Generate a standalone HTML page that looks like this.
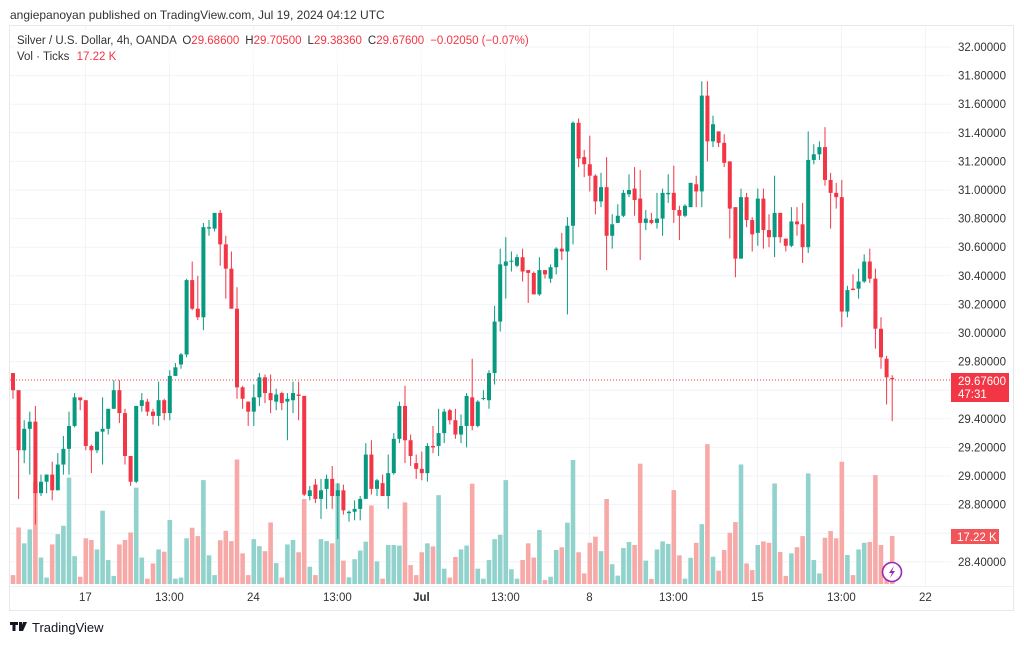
<!DOCTYPE html>
<html><head><meta charset="utf-8">
<style>
html,body{margin:0;padding:0;background:#fff;}
body{width:1024px;height:643px;overflow:hidden;position:relative;font-family:"Liberation Sans",sans-serif;}
svg text{font-family:"Liberation Sans",sans-serif;}
</style></head>
<body>
<svg id="chart" width="1024" height="643" xmlns="http://www.w3.org/2000/svg">
  <text x="10" y="19" font-size="12" fill="#333">angiepanoyan published on TradingView.com, Jul 19, 2024 04:12 UTC</text>
  <rect x="9.5" y="25.5" width="1004" height="585" fill="none" stroke="#e6e8ec"/>
  <g id="grid"></g>
  <g id="vols"></g>
  <g id="candles"></g>
  <g id="axis"></g>
  <g id="taxis"></g>
  <g>
    <rect x="12" y="30" width="500" height="36" fill="#fff" opacity="0.6"/>
    <text x="17" y="44" font-size="11.5" fill="#333">Silver / U.S. Dollar, 4h, OANDA <tspan dx="3">O</tspan><tspan fill="#f23645">29.68600</tspan><tspan dx="6">H</tspan><tspan fill="#f23645">29.70500</tspan><tspan dx="6">L</tspan><tspan fill="#f23645">29.38360</tspan><tspan dx="6">C</tspan><tspan fill="#f23645">29.67600</tspan><tspan dx="6" fill="#f23645">−0.02050 (−0.07%)</tspan></text>
    <text x="17" y="60" font-size="11.5" fill="#333">Vol · Ticks <tspan dx="4" fill="#f23645">17.22 K</tspan></text>
  </g>
  <g>
    <line x1="10" x2="951" y1="380" y2="380" stroke="#f23645" stroke-width="1" stroke-dasharray="1,2"/>
    <rect x="951" y="373" width="58" height="29" fill="#f23645"/>
    <text x="958" y="385" font-size="11.5" fill="#fff">29.67600</text>
    <text x="958" y="398" font-size="11.5" fill="#fff">47:31</text>
  </g>
  <g>
    <rect x="951" y="529" width="48" height="15" fill="#f0555a"/>
    <text x="957" y="541" font-size="11.5" fill="#fff">17.22 K</text>
  </g>
  <g>
    <circle cx="892" cy="572" r="9.5" fill="#fff" stroke="#9c27b0" stroke-width="1.6"/>
    <path d="M894 566 L889 573 L892 573 L890 578 L895 571 L892 571 Z" fill="#9c27b0"/>
  </g>
  <g>
    <path d="M10 622 h8 v3 h-2.5 v6 h-3 v-6 h-2.5z M19 622 h3 v9 h-3z M23 622 h4 l-4 9 h-3z" fill="#131722"/>
    <text x="32" y="632" font-size="13" fill="#131722">TradingView</text>
  </g>
</svg>
<script>
const opens=[29.72,29.60,29.18,29.33,29.38,28.88,28.96,29.01,28.90,29.08,29.19,29.35,29.55,29.53,29.21,29.18,29.31,29.33,29.47,29.60,29.44,29.14,28.96,29.49,29.52,29.45,29.42,29.53,29.44,29.70,29.78,
29.85,30.37,30.17,30.11,30.73,30.73,30.84,30.62,30.45,30.17,29.62,29.52,29.45,29.55,29.69,29.58,29.52,29.58,29.52,29.53,29.57,29.56,28.86,28.94,28.84,28.91,28.98,28.86,28.90,28.74,28.75,
28.77,28.84,29.15,28.91,28.95,28.86,29.02,29.26,29.49,29.25,29.09,29.05,29.02,29.21,29.21,29.30,29.46,29.39,29.29,29.35,29.55,29.35,29.54,29.53,29.72,30.08,30.47,30.50,30.47,30.53,30.44,30.42,
30.27,30.44,30.38,30.46,30.59,30.57,30.75,31.47,31.23,31.18,31.10,30.92,31.02,30.68,30.77,30.82,30.97,31.01,30.94,30.77,30.79,30.77,30.80,30.97,30.98,30.86,30.82,30.88,31.04,30.99,31.66,31.34,
31.41,31.33,31.20,30.88,30.52,30.95,30.79,30.70,30.94,30.72,30.67,30.84,30.66,30.61,30.78,30.76,30.60,31.21,31.25,31.30,31.07,30.98,30.95,30.15,30.31,30.31,30.36,30.50,30.38,30.03,29.82,29.686];
const highs=[29.72,29.60,29.39,29.45,29.49,29.01,29.01,29.10,29.16,29.28,29.45,29.58,29.55,29.53,29.22,29.31,29.55,29.47,29.67,29.67,29.47,29.14,29.49,29.58,29.54,29.47,29.66,29.54,29.74,29.79,29.86,
30.38,30.50,30.40,30.77,30.79,30.84,30.86,30.68,30.57,30.32,29.63,29.52,29.64,29.72,29.71,29.71,29.61,29.59,29.58,29.66,29.66,29.56,28.93,28.98,28.98,29.01,29.07,28.95,28.94,28.76,28.83,
28.86,29.23,29.25,28.98,29.01,29.15,29.30,29.52,29.63,29.29,29.15,29.17,29.23,29.35,29.47,29.47,29.47,29.47,29.43,29.58,29.82,29.53,29.60,29.74,30.19,30.59,30.67,30.57,30.55,30.59,30.44,30.43,
30.53,30.44,30.48,30.60,30.70,30.81,31.48,31.50,31.28,31.38,31.11,31.12,31.23,30.83,30.90,31.00,31.11,31.16,31.14,30.86,30.84,30.98,31.01,31.11,31.17,30.89,30.90,31.05,31.10,31.76,31.76,31.52,
31.41,31.39,31.20,30.88,31.01,30.98,30.81,31.01,31.01,30.83,31.10,30.84,30.66,30.88,30.88,30.91,31.41,31.32,31.34,31.44,31.12,31.05,31.07,30.33,30.41,30.45,30.55,30.59,30.45,30.11,29.84,29.705];
const lows=[29.54,28.84,29.09,29.01,28.66,28.86,28.88,28.83,28.90,29.01,29.01,29.34,29.46,29.18,29.02,29.16,29.08,29.29,29.47,29.37,29.08,28.93,28.95,29.45,29.42,29.36,29.35,29.39,29.39,29.70,29.75,
29.83,30.16,30.09,30.02,30.68,30.71,30.47,30.24,30.17,29.54,29.47,29.35,29.35,29.49,29.51,29.44,29.46,29.46,29.25,29.44,29.39,28.86,28.83,28.81,28.70,28.77,28.77,28.56,28.73,28.68,28.69,
28.69,28.84,28.87,28.86,28.86,28.77,29.01,29.23,29.09,29.07,28.98,28.97,28.96,29.16,29.14,29.23,29.36,29.26,29.23,29.20,29.32,29.34,29.53,29.47,29.64,30.01,30.24,30.43,30.46,30.36,30.21,30.27,
30.26,30.38,30.35,30.41,30.51,30.13,30.62,31.16,31.09,30.99,30.83,30.88,30.44,30.59,30.77,30.81,30.95,30.82,30.51,30.72,30.76,30.73,30.68,30.91,30.77,30.65,30.81,30.88,30.88,30.88,31.20,31.30,
31.30,31.16,30.66,30.39,30.52,30.74,30.57,30.61,30.59,30.60,30.53,30.63,30.57,30.60,30.68,30.49,30.56,31.18,31.21,31.03,30.73,30.87,30.04,30.11,30.30,30.24,30.35,30.35,29.89,29.75,29.50,29.3836];
const closes=[29.60,29.18,29.33,29.38,28.88,28.96,29.01,28.90,29.08,29.19,29.35,29.55,29.53,29.21,29.18,29.31,29.33,29.47,29.60,29.44,29.14,28.96,29.49,29.53,29.45,29.42,29.53,29.44,29.70,29.76,29.85,
30.37,30.17,30.11,30.74,30.74,30.84,30.62,30.45,30.17,29.62,29.54,29.45,29.55,29.69,29.58,29.53,29.57,29.51,29.54,29.58,29.56,28.87,28.90,28.84,28.90,28.98,28.86,28.90,28.76,28.75,28.77,
28.84,29.15,28.91,28.97,28.86,29.02,29.26,29.49,29.25,29.14,29.05,29.02,29.21,29.20,29.30,29.45,29.39,29.29,29.35,29.56,29.35,29.52,29.545,29.72,30.08,30.48,30.50,30.505,30.53,30.43,30.42,30.27,
30.44,30.41,30.46,30.59,30.57,30.75,31.47,31.22,31.18,31.10,30.92,31.02,30.68,30.76,30.82,30.98,31.00,30.93,30.77,30.80,30.77,30.80,30.98,30.98,30.86,30.82,30.89,31.05,30.99,31.66,31.34,31.46,
31.33,31.19,30.87,30.52,30.95,30.79,30.69,30.94,30.72,30.67,30.84,30.67,30.61,30.78,30.76,30.60,31.21,31.25,31.30,31.07,30.98,30.95,30.15,30.30,30.30,30.36,30.50,30.38,30.03,29.83,29.69,29.676];
const volumes=[3.2,20.3,14.6,19.6,36.7,9.5,2.3,14.2,17.9,20.9,38.2,10.0,2.6,16.4,15.8,12.4,26.3,8.6,2.9,14.2,15.8,18.5,34.6,9.5,1.9,7.4,12.4,11.6,23.0,1.9,2.3,
16.4,20.2,17.2,37.3,10.3,3.2,15.7,19.1,15.4,44.7,11.0,3.2,16.1,13.6,11.8,22.1,7.5,2.3,14.2,15.8,11.4,30.5,6.2,3.2,16.1,15.4,14.6,36.1,8.4,2.4,8.9,
12.0,15.2,28.2,8.1,1.9,14.0,14.0,13.8,29.3,6.8,3.2,11.4,14.6,13.5,31.9,5.5,2.3,9.7,12.4,13.8,36.0,5.5,1.9,8.6,16.1,17.7,37.3,5.3,1.9,8.6,14.6,9.5,
19.4,1.4,2.6,12.2,13.2,22.0,44.5,11.4,3.8,14.8,17.0,11.8,30.5,7.1,3.0,12.9,15.1,14.0,43.2,8.4,1.8,12.4,15.3,14.4,33.7,10.3,1.9,9.4,14.8,21.5,50.2,9.8,
4.8,12.2,18.4,22.2,42.9,7.4,5.0,14.0,15.3,14.8,36.1,11.5,2.9,11.0,13.2,17.2,39.7,8.6,3.8,16.6,19.0,16.4,43.9,10.4,3.2,12.4,14.8,15.1,39.1,14.0,4.4,17.22];
const priceTicks=[32.0,31.8,31.6,31.4,31.2,31.0,30.8,30.6,30.4,30.2,30.0,29.8,29.4,29.2,29.0,28.8,28.4];
const gridPrices=[32.0,31.8,31.6,31.4,31.2,31.0,30.8,30.6,30.4,30.2,30.0,29.8,29.6,29.4,29.2,29.0,28.8,28.6,28.4];
const timeLabels=["17","13:00","24","13:00","Jul","13:00","8","13:00","15","13:00","22"];
const timeLabelIdx=[13,28,43,58,73,88,103,118,133,148,163];

const NS="http://www.w3.org/2000/svg";
function yP(p){return 47+(32-p)*143;}
function xI(i){return 13+i*5.6;}
function yV(v){return 584-v/0.359;}
function mk(tag,attrs,parent){const e=document.createElementNS(NS,tag);for(const k in attrs)e.setAttribute(k,attrs[k]);parent.appendChild(e);return e;}

const grid=document.getElementById('grid');
gridPrices.forEach(p=>{const l=mk('line',{x1:10,x2:951,y1:yP(p),y2:yP(p),stroke:'#f0f3fa','stroke-width':1},grid);

});
timeLabelIdx.forEach(i=>{const l=mk('line',{x1:xI(i)-0.4,x2:xI(i)-0.4,y1:26,y2:586,stroke:'#f0f3fa','stroke-width':1},grid);

});

const axis=document.getElementById('axis');
priceTicks.forEach(p=>{const t=mk('text',{x:958,y:yP(p)+4,'font-size':11.5,fill:'#333'},axis);t.textContent=p.toFixed(5);

});

const taxis=document.getElementById('taxis');
mk('line',{x1:10,x2:1013,y1:586.5,y2:586.5,stroke:'#eef0f3'},taxis);
timeLabels.forEach((s,k)=>{const t=mk('text',{x:xI(timeLabelIdx[k])-0.4,y:601,'font-size':11.5,fill:'#333','text-anchor':'middle','font-weight':s==='Jul'?'bold':'normal'},taxis);t.textContent=s;

});

const vols=document.getElementById('vols');
const cg=document.getElementById('candles');
for(let i=0;i<opens.length;i++){
  const up=closes[i]>=opens[i];
  const x=xI(i);
  const vb=mk('rect',{x:x-2.3,y:yV(volumes[i]),width:4.6,height:584-yV(volumes[i]),fill:up?'#92d2cc':'#f7a9a7'},vols);
  
  
  const col=up?'#089981':'#f23645';
  const g=mk('g',{},cg);
  
  
  mk('line',{x1:x,x2:x,y1:yP(highs[i]),y2:yP(lows[i]),stroke:col,'stroke-width':1},g);
  const top=yP(Math.max(opens[i],closes[i])),bot=yP(Math.min(opens[i],closes[i]));
  mk('rect',{x:x-2,y:top,width:4,height:Math.max(1,bot-top),fill:col},g);
}
</script>
</body></html>
